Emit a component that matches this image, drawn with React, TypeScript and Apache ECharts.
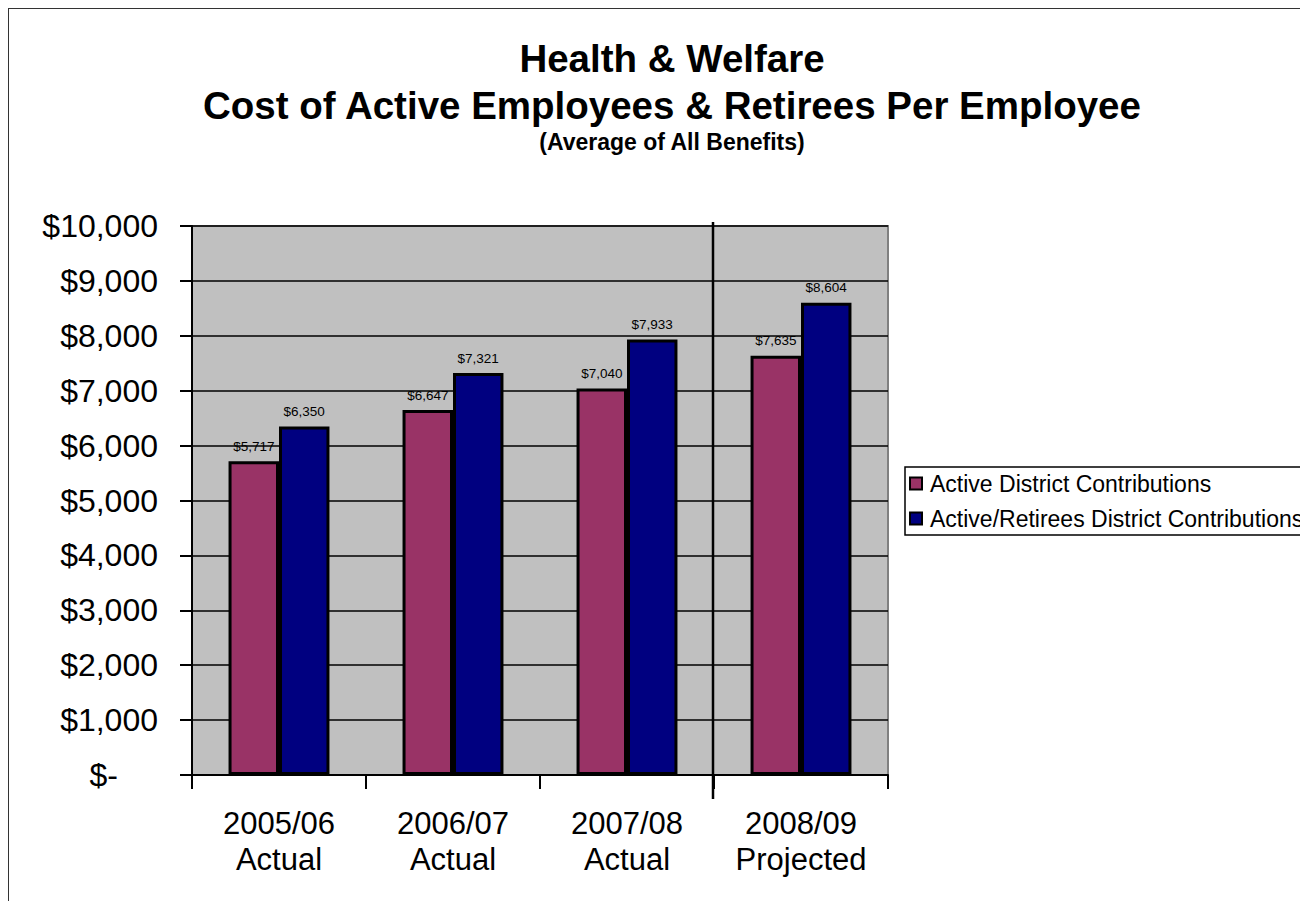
import React, { useEffect, useRef } from "react";
import * as echarts from "echarts";

const categories = ["2005/06\nActual", "2006/07\nActual", "2007/08\nActual", "2008/09\nProjected"];
const activeValues = [5717, 6647, 7040, 7635];
const retireeValues = [6350, 7321, 7933, 8604];
const seriesNames = ["Active District Contributions", "Active/Retirees District Contributions"];

const FONT = "'Liberation Sans', Arial, sans-serif";

function fmtMoney(v: number) {
  return "$" + v.toLocaleString("en-US");
}

export default function App() {
  const ref = useRef<HTMLDivElement>(null);
  useEffect(() => {
    if (!ref.current) return;
    const chart = echarts.init(ref.current, null, { renderer: "svg" });
    const barLabel = {
      show: true,
      position: "top",
      distance: 8,
      fontFamily: FONT,
      fontSize: 13.5,
      color: "#000",
      formatter: (p: any) => fmtMoney(p.value),
    };
    const option: any = {
      animation: false,
      backgroundColor: "#ffffff",
      textStyle: { fontFamily: FONT },
      title: [
        {
          text: "Health & Welfare\nCost of Active Employees & Retirees Per Employee",
          left: 659,
          top: 22,
          textAlign: "center",
          textStyle: { fontFamily: FONT, fontSize: 38.5, fontWeight: "bold", color: "#000", lineHeight: 47 },
        },
        {
          text: "(Average of All Benefits)",
          left: 659,
          top: 118,
          textAlign: "center",
          textStyle: { fontFamily: FONT, fontSize: 23, fontWeight: "bold", color: "#000", lineHeight: 22 },
        },
      ],
      legend: {
        orient: "vertical",
        left: 897,
        top: 459,
        data: seriesNames,
        icon: "rect",
        itemWidth: 12,
        itemHeight: 12,
        itemGap: 12,
        padding: [5, 6, 5, 4],
        borderColor: "#000",
        borderWidth: 1.5,
        itemStyle: { borderColor: "#000", borderWidth: 2 },
        textStyle: { fontFamily: FONT, fontSize: 23, lineHeight: 23, color: "#000", padding: [0, 0, 0, 3] },
      },
      grid: {
        left: 184,
        right: 420,
        top: 218,
        bottom: 126,
        show: true,
        backgroundColor: "#C0C0C0",
        borderColor: "#808080",
        borderWidth: 2,
      },
      xAxis: {
        type: "category",
        data: categories,
        axisLine: { lineStyle: { color: "#000", width: 2 } },
        axisTick: { show: true, interval: 0, length: 14, lineStyle: { color: "#000", width: 2 } },
        axisLabel: { interval: 0, fontFamily: FONT, fontSize: 31, color: "#000", margin: 30, lineHeight: 36 },
      },
      yAxis: {
        type: "value",
        min: 0,
        max: 10000,
        interval: 1000,
        axisLine: { show: true, lineStyle: { color: "#000", width: 2 } },
        axisTick: { show: true, length: 12, lineStyle: { color: "#000", width: 2 } },
        splitLine: { show: true, lineStyle: { color: "#000", width: 1.5 } },
        axisLabel: {
          fontFamily: FONT,
          fontSize: 32,
          color: "#000",
          margin: 34,
          formatter: (v: number) => (v === 0 ? "{z|$-}" : fmtMoney(v)),
          rich: { z: { fontFamily: FONT, fontSize: 32, color: "#000", padding: [0, 40, 0, 0] } },
        },
      },
      series: [
        {
          name: seriesNames[0],
          type: "bar",
          data: activeValues,
          barGap: "0%",
          barCategoryGap: "42%",
          itemStyle: { color: "#993366", borderColor: "#000", borderWidth: 3 },
          label: barLabel,
        },
        {
          name: seriesNames[1],
          type: "bar",
          data: retireeValues,
          barGap: "0%",
          barCategoryGap: "42%",
          itemStyle: { color: "#000080", borderColor: "#000", borderWidth: 3 },
          label: barLabel,
        },
      ],
    };
    chart.setOption(option);
    const p2 = chart.convertToPixel({ xAxisIndex: 0 }, 2) as number;
    const p3 = chart.convertToPixel({ xAxisIndex: 0 }, 3) as number;
    const sepX = (p2 + p3) / 2 - 1;
    const yTop = chart.convertToPixel({ yAxisIndex: 0 }, 10000) as number;
    const yBot = chart.convertToPixel({ yAxisIndex: 0 }, 0) as number;
    chart.setOption({
      graphic: [
        { type: "line", shape: { x1: 0, y1: 0, x2: 0, y2: 900 }, style: { stroke: "#333", lineWidth: 2 } },
        { type: "line", shape: { x1: 0, y1: 0, x2: 1300, y2: 0 }, style: { stroke: "#333", lineWidth: 2 } },
        {
          type: "line",
          z: 100,
          shape: { x1: sepX, y1: yTop - 4, x2: sepX, y2: yBot + 24 },
          style: { stroke: "#000", lineWidth: 2.5 },
        },
      ],
    });
    return () => chart.dispose();
  }, []);
  return <div ref={ref} style={{ width: 1300, height: 893 }} />;
}
